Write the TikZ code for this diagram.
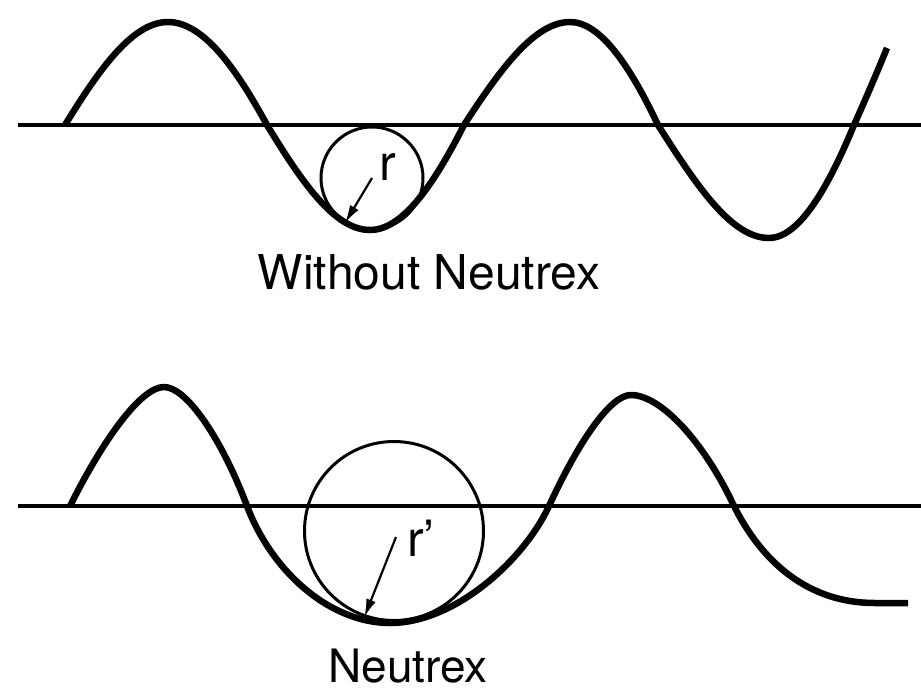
\documentclass[tikz,border=0pt]{standalone}
\usepackage{fontspec}
\setmainfont{TeX Gyre Heros}
\usetikzlibrary{arrows.meta}
\begin{document}
\begin{tikzpicture}[x=1pt,y=-1pt,
  wave/.style={line width=6.5pt, line join=round},
  axisline/.style={line width=3.2pt},
  ring/.style={circle, draw, line width=3pt, inner sep=0pt},
  radarrow/.style={line width=2.2pt, -{Latex[length=18pt,width=10pt]}},
  lbl/.style={font=\fontsize{48}{56}\selectfont, inner sep=0pt, anchor=base},
  rlbl/.style={font=\fontsize{50}{58}\selectfont, inner sep=0pt, anchor=base}]
\useasboundingbox (0,0) rectangle (921,691);
% ---------- top: without Neutrex ----------
\coordinate (ax1a) at (18,125);
\coordinate (ax1b) at (921,125);
\draw[axisline] (ax1a) -- (ax1b);
\draw[wave] (65,125) .. controls (100,68) and (133,22) .. (168,22)
 .. controls (203,22) and (236,68) .. (267,125)
 .. controls (303,184) and (335,230) .. (370,230)
 .. controls (403,230) and (434,184) .. (464,125)
 .. controls (501,68) and (535,22) .. (570,22)
 .. controls (601,22) and (631,68) .. (658,125)
 .. controls (698,188) and (732,238) .. (769,238)
 .. controls (799,238) and (828,188) .. (854,125)
 .. controls (867,96) and (878,70) .. (887,48);
\node[ring, minimum size=102pt] (c1) at (372,178) {};
\draw[radarrow] (c1.center) -- (c1.239);
\node[rlbl] (r1) at (388,180) {r};
\node[lbl] (t1) at (429,289) {Without Neutrex};
% ---------- bottom: Neutrex ----------
\coordinate (ax2a) at (18,506);
\coordinate (ax2b) at (921,506);
\draw[axisline] (ax2a) -- (ax2b);
\draw[wave] (70,506) .. controls (103,440) and (141,387) .. (164,387)
 .. controls (186,387) and (221,437) .. (247,506)
 .. controls (272,572) and (330,623) .. (390,623)
 .. controls (455,623) and (524,560) .. (549,506)
 .. controls (578,443) and (610,395) .. (631,395)
 .. controls (660,395) and (703,440) .. (734,506)
 .. controls (757,552) and (800,603) .. (875,603)
 -- (908,603);
\node[ring, minimum size=179pt] (c2) at (394,531) {};
\coordinate (a2s) at (396,537);
\draw[radarrow] (a2s) -- (c2.251);
\node[rlbl] (r2) at (421,556) {r’};
\node[lbl, font=\fontsize{46}{54}\selectfont] (t2) at (408,682) {Neutrex};
\end{tikzpicture}
\end{document}
